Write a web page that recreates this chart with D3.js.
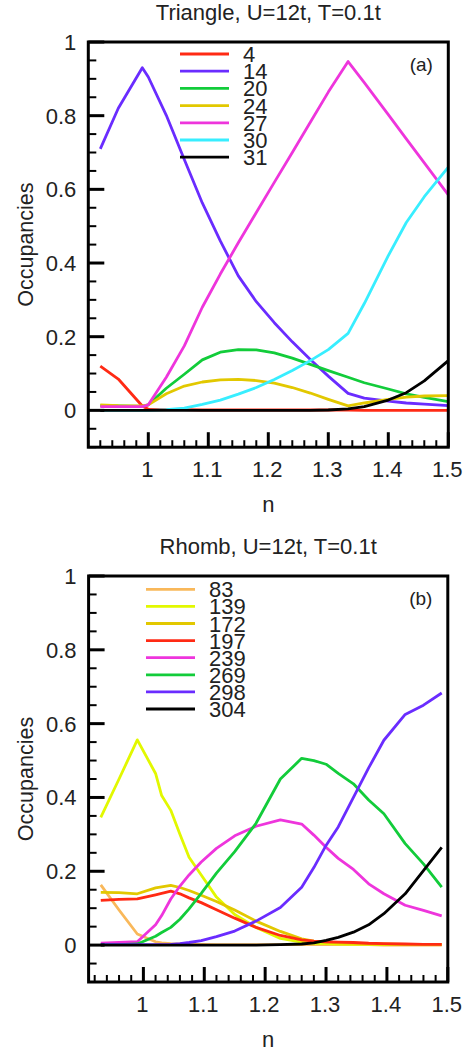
<!DOCTYPE html>
<html>
<head>
<meta charset="utf-8">
<script src="https://cdn.jsdelivr.net/npm/d3@7"></script>
<style>
  body { margin: 0; background: #fff; }
  svg { display: block; }
  text { font-family: "Liberation Sans", Arial, Helvetica, sans-serif; fill: #222; }
</style>
</head>
<body>
<svg id="fig" width="466" height="1053"></svg>
<script>
// ---------- Panel (a): Triangle, U=12t, T=0.1t ----------
const triN = [0.92, 0.95, 0.99, 1.0, 1.03, 1.06, 1.09, 1.12, 1.15, 1.18, 1.21,
              1.24, 1.27, 1.30, 1.333, 1.36, 1.40, 1.43, 1.46, 1.50];
const tri4  = [0.120, 0.085, 0.012, 0.003, 0.002, 0.002, 0.001, 0.001, 0.001, 0.001, 0.001,
               0.001, 0.001, 0.001, 0.001, 0.0, 0.0, 0.0, 0.0, 0.0];
const tri14 = [0.710, 0.820, 0.930, 0.905, 0.801, 0.681, 0.563, 0.460, 0.365, 0.295, 0.238,
               0.186, 0.138, 0.093, 0.046, 0.033, 0.025, 0.020, 0.017, 0.013];
const tri20 = [0.013, 0.012, 0.011, 0.015, 0.060, 0.098, 0.137, 0.158, 0.165, 0.164, 0.156,
               0.142, 0.125, 0.108, 0.090, 0.075, 0.058, 0.045, 0.035, 0.024];
const tri24 = [0.015, 0.013, 0.012, 0.015, 0.045, 0.066, 0.077, 0.083, 0.084, 0.081, 0.074,
               0.062, 0.047, 0.030, 0.012, 0.020, 0.030, 0.036, 0.039, 0.040];
const tri27 = [0.010, 0.010, 0.010, 0.015, 0.090, 0.175, 0.280, 0.370, 0.455, 0.537, 0.619,
               0.700, 0.782, 0.864, 0.947, 0.890, 0.803, 0.737, 0.672, 0.585];
const tri30 = [0.0, 0.0, 0.0, 0.0, 0.002, 0.006, 0.016, 0.028, 0.044, 0.062, 0.084,
               0.108, 0.135, 0.165, 0.209, 0.290, 0.420, 0.510, 0.580, 0.660];
const tri31 = [0.0, 0.0, 0.0, 0.0, 0.0, 0.0, 0.0, 0.0, 0.0, 0.0, 0.0,
               0.0, 0.0, 0.001, 0.004, 0.010, 0.028, 0.048, 0.080, 0.135];
const triLabels = ["4", "14", "20", "24", "27", "30", "31"];
const triColors = ["#ff2a14", "#6a2cff", "#12cc3a", "#e2c800", "#ee35dc", "#38eeff", "#000000"];

// ---------- Panel (b): Rhomb, U=12t, T=0.1t ----------
const rhoN = [0.93, 0.96, 0.99, 1.02, 1.03, 1.045, 1.06, 1.075, 1.095, 1.12, 1.15, 1.185,
              1.225, 1.26, 1.28, 1.30, 1.32, 1.345, 1.37, 1.395, 1.43, 1.46, 1.49];
const rho83  = [0.163, 0.095, 0.030, 0.009, 0.006, 0.004, 0.003, 0.002, 0.002, 0.001, 0.001, 0.001,
                0.001, 0.001, 0.001, 0.001, 0.001, 0.001, 0.001, 0.0, 0.0, 0.0, 0.0];
const rho139 = [0.346, 0.450, 0.556, 0.465, 0.405, 0.365, 0.300, 0.238, 0.190, 0.130, 0.083, 0.048,
                0.018, 0.008, 0.005, 0.004, 0.003, 0.002, 0.002, 0.001, 0.001, 0.001, 0.001];
const rho172 = [0.143, 0.142, 0.139, 0.155, 0.158, 0.162, 0.156, 0.148, 0.135, 0.118, 0.095, 0.065,
                0.037, 0.017, 0.011, 0.008, 0.006, 0.005, 0.004, 0.003, 0.002, 0.002, 0.001];
const rho197 = [0.121, 0.124, 0.125, 0.136, 0.140, 0.146, 0.139, 0.128, 0.115, 0.096, 0.073, 0.048,
                0.026, 0.014, 0.011, 0.009, 0.008, 0.007, 0.005, 0.004, 0.003, 0.002, 0.002];
const rho239 = [0.005, 0.007, 0.009, 0.055, 0.080, 0.125, 0.160, 0.190, 0.225, 0.262, 0.296, 0.322,
                0.339, 0.328, 0.298, 0.265, 0.235, 0.205, 0.166, 0.139, 0.108, 0.094, 0.079];
const rho269 = [0.001, 0.001, 0.003, 0.024, 0.034, 0.048, 0.070, 0.098, 0.140, 0.195, 0.253, 0.330,
                0.450, 0.506, 0.500, 0.490, 0.465, 0.437, 0.393, 0.356, 0.275, 0.220, 0.157];
const rho298 = [0.001, 0.001, 0.001, 0.001, 0.001, 0.002, 0.004, 0.007, 0.012, 0.023, 0.038, 0.065,
                0.102, 0.157, 0.210, 0.270, 0.320, 0.400, 0.480, 0.555, 0.625, 0.650, 0.683];
const rho304 = [0.0, 0.0, 0.0, 0.0, 0.0, 0.0, 0.0, 0.0, 0.0, 0.0, 0.0, 0.0,
                0.001, 0.003, 0.006, 0.013, 0.021, 0.035, 0.055, 0.085, 0.139, 0.202, 0.265];
const rhoLabels = ["83", "139", "172", "197", "239", "269", "298", "304"];
const rhoColors = ["#f9b85a", "#e2f800", "#e2c800", "#ff2a14", "#ee35dc", "#12cc3a", "#6a2cff", "#000000"];

// ---------- Shared axis ticks ----------
const xTickValues = [1, 1.1, 1.2, 1.3, 1.4, 1.5];
const xTickLabels = ["1", "1.1", "1.2", "1.3", "1.4", "1.5"];
const yTickValues = [0, 0.2, 0.4, 0.6, 0.8, 1];
const yTickLabels = ["0", "0.2", "0.4", "0.6", "0.8", "1"];

const FS = 22;
const svg = d3.select("#fig");

function drawPanel(p) {
  const x = d3.scaleLinear().domain(p.xDomain).range(p.xRange);
  const y = d3.scaleLinear().domain([-0.1, 1]).range(p.yRange);
  const g = svg.append("g");
  const [x0, x1] = p.xRange, [y0, y1] = p.yRange;

  // title
  g.append("text").attr("x", (x0 + x1) / 2).attr("y", y1 - 22)
    .attr("text-anchor", "middle").attr("font-size", FS).text(p.title);

  // clip for curves
  const clipId = "clip-" + p.id;
  g.append("clipPath").attr("id", clipId).append("rect")
    .attr("x", x0).attr("y", y1).attr("width", x1 - x0).attr("height", y0 - y1);

  // curves
  const line = d3.line().x(d => x(d[0])).y(d => y(d[1]));
  const curves = g.append("g").attr("clip-path", `url(#${clipId})`);
  p.series.forEach((vals, i) => {
    curves.append("path")
      .datum(p.n.map((v, k) => [v, vals[k]]))
      .attr("d", line).attr("fill", "none")
      .attr("stroke", p.colors[i]).attr("stroke-width", 2.8)
      .attr("stroke-linejoin", "round");
  });

  // minor / major ticks, drawn inward
  const ax = g.append("g").attr("stroke", "#000");
  const xMinor = d3.range(Math.ceil(p.xDomain[0] * 50), Math.floor(p.xDomain[1] * 50) + 1).map(k => k / 50);
  xMinor.forEach(v => {
    const major = xTickValues.some(t => Math.abs(t - v) < 1e-9);
    ax.append("line").attr("x1", x(v)).attr("x2", x(v))
      .attr("y1", y0).attr("y2", y0 - (major ? 15 : 7))
      .attr("stroke-width", major ? 3 : 2);
  });
  const yMinor = d3.range(-2, 21).map(k => k / 20);
  yMinor.forEach(v => {
    const major = yTickValues.some(t => Math.abs(t - v) < 1e-9);
    ax.append("line").attr("y1", y(v)).attr("y2", y(v))
      .attr("x1", x0).attr("x2", x0 + (major ? 16 : 8))
      .attr("stroke-width", major ? 3 : 2);
  });

  // frame
  g.append("rect").attr("x", x0).attr("y", y1).attr("width", x1 - x0).attr("height", y0 - y1)
    .attr("fill", "none").attr("stroke", "#000").attr("stroke-width", 3);

  // tick labels
  xTickValues.forEach((v, i) => {
    g.append("text").attr("x", x(v) - 1).attr("y", y0 + 30)
      .attr("text-anchor", "middle").attr("font-size", FS).text(xTickLabels[i]);
  });
  yTickValues.forEach((v, i) => {
    g.append("text").attr("x", x0 - 12).attr("y", y(v) + 8)
      .attr("text-anchor", "end").attr("font-size", FS).text(yTickLabels[i]);
  });

  // axis titles
  g.append("text").attr("x", (x0 + x1) / 2).attr("y", y0 + 65)
    .attr("text-anchor", "middle").attr("font-size", FS).text("n");
  g.append("text").attr("transform", `translate(33,${(y0 + y1) / 2}) rotate(-90)`)
    .attr("text-anchor", "middle").attr("font-size", 21.5).text("Occupancies");

  // panel tag
  g.append("text").attr("x", x1 - 27).attr("y", y1 + 29)
    .attr("text-anchor", "middle").attr("font-size", 19).text(p.tag);

  // legend
  const leg = g.append("g");
  p.labels.forEach((lab, i) => {
    const ly = p.legendY + i * p.legendStep;
    leg.append("line").attr("x1", p.legendX).attr("x2", p.legendX + 49)
      .attr("y1", ly).attr("y2", ly)
      .attr("stroke", p.colors[i]).attr("stroke-width", 2.8);
    leg.append("text").attr("x", p.legendX + 63).attr("y", ly + 8)
      .attr("font-size", FS).text(lab);
  });
}

drawPanel({
  id: "a", title: "Triangle, U=12t, T=0.1t", tag: "(a)",
  n: triN, series: [tri4, tri14, tri20, tri24, tri27, tri30, tri31],
  labels: triLabels, colors: triColors,
  xDomain: [0.9, 1.5], xRange: [88.3, 448.3], yRange: [447.2, 42],
  legendX: 180, legendY: 54, legendStep: 17.2
});

drawPanel({
  id: "b", title: "Rhomb, U=12t, T=0.1t", tag: "(b)",
  n: rhoN, series: [rho83, rho139, rho172, rho197, rho239, rho269, rho298, rho304],
  labels: rhoLabels, colors: rhoColors,
  xDomain: [0.91, 1.5], xRange: [88.6, 447.8], yRange: [982, 576],
  legendX: 146, legendY: 589.3, legendStep: 17.1
});
</script>
</body>
</html>
